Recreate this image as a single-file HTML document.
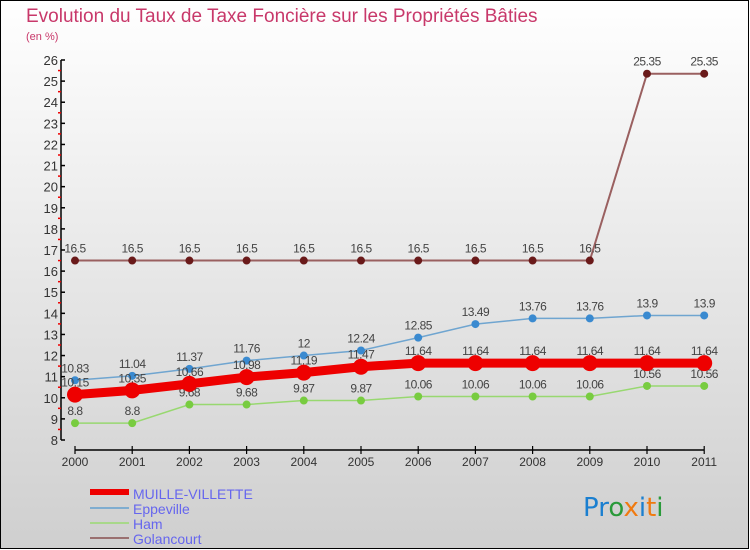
<!DOCTYPE html>
<html><head><meta charset="utf-8"><style>
body{margin:0;}
#c{position:relative;width:750px;height:550px;overflow:hidden;}
svg{display:block;font-family:"Liberation Sans",sans-serif;}
</style></head><body>
<div id="c">
<svg id="s" width="750" height="550">
<defs><linearGradient id="bg" x1="0" y1="0" x2="0" y2="1"><stop offset="0" stop-color="#ffffff"/><stop offset="1" stop-color="#cfcfcf"/></linearGradient></defs>
<rect x="0.5" y="0.5" width="748" height="548" fill="url(#bg)" stroke="#000"/>
<text x="26" y="22" font-size="19" fill="#c8386a">Evolution du Taux de Taxe Foncière sur les Propriétés Bâties</text>
<text x="26" y="40" font-size="11" fill="#c8386a">(en %)</text>
<g id="axes"></g><g id="series"></g>
<g>
<rect x="90" y="489" width="39" height="6" fill="#ee0000"/>
<text x="133" y="499" font-size="14" fill="#6666ee">MUILLE-VILLETTE</text>
<rect x="90" y="507" width="39" height="2" fill="#7fadd0"/>
<text x="133" y="514" font-size="14" fill="#6666ee">Eppeville</text>
<rect x="90" y="522" width="39" height="2" fill="#a8d88a"/>
<text x="133" y="529" font-size="14" fill="#6666ee">Ham</text>
<rect x="90" y="537" width="39" height="2" fill="#9a7070"/>
<text x="133" y="544" font-size="14" fill="#6666ee">Golancourt</text>
</g>
<text x="583" y="516" font-size="26" font-family="'DejaVu Sans',sans-serif"><tspan fill="#1a7fd0">Pr</tspan><tspan fill="#2a9a3a">o</tspan><tspan fill="#f07a10">x</tspan><tspan fill="#1a7fd0">i</tspan><tspan fill="#f07a10">t</tspan><tspan fill="#2a9a3a">i</tspan></text>
</svg></div>
<script>
const years=[2000,2001,2002,2003,2004,2005,2006,2007,2008,2009,2010,2011];
const muille=[10.15,10.35,10.66,10.98,11.19,11.47,11.64,11.64,11.64,11.64,11.64,11.64];
const eppeville=[10.83,11.04,11.37,11.76,12,12.24,12.85,13.49,13.76,13.76,13.9,13.9];
const ham=[8.8,8.8,9.68,9.68,9.87,9.87,10.06,10.06,10.06,10.06,10.56,10.56];
const golancourt=[16.5,16.5,16.5,16.5,16.5,16.5,16.5,16.5,16.5,16.5,25.35,25.35];
const yTicks=[8,9,10,11,12,13,14,15,16,17,18,19,20,21,22,23,24,25,26];
const NS="http://www.w3.org/2000/svg";
function X(i){return 75+i*57.2;}
function Y(v){return 440-(v-8)*(380/18);}
function mk(t,a,p){const e=document.createElementNS(NS,t);for(const k in a)e.setAttribute(k,a[k]);p.appendChild(e);return e;}
const ax=document.getElementById('axes');
const yl=mk('line',{x1:61,y1:Y(26),x2:61,y2:Y(8),stroke:'#000','stroke-width':1.5},ax);


yTicks.forEach(v=>{
 const t=mk('line',{x1:61,y1:Y(v),x2:65,y2:Y(v),stroke:'#000','stroke-width':1.5},ax);
 
 
 if(v<26){const m=mk('line',{x1:58,y1:Y(v+0.5),x2:61,y2:Y(v+0.5),stroke:'#e00','stroke-width':1.5},ax);
 
 }
 const l=mk('text',{x:58,y:Y(v)+5,'font-size':13,fill:'#333','text-anchor':'end'},ax);l.textContent=v;
 
 
});
const xl=mk('line',{x1:X(0),y1:450,x2:X(11),y2:450,stroke:'#000','stroke-width':1.5},ax);


years.forEach((yr,i)=>{
 const t=mk('line',{x1:X(i),y1:446,x2:X(i),y2:454,stroke:'#000','stroke-width':1.2},ax);
 
 
 const l=mk('text',{x:X(i),y:466,'font-size':12,fill:'#333','text-anchor':'middle'},ax);l.textContent=yr;
 
 
});
const sg=document.getElementById('series');
function draw(name,vals,line,dot,lw,r){
 const g=mk('g',{},sg);
 
 
 const pl=mk('polyline',{points:vals.map((v,i)=>X(i)+','+Y(v)).join(' '),fill:'none',stroke:line,'stroke-width':lw},g);
 
 
 vals.forEach((v,i)=>{
  const c=mk('circle',{cx:X(i),cy:Y(v),r:r,fill:dot},g);
  
  
  const t=mk('text',{x:X(i),y:Y(v)-8,'font-size':12,fill:'#444','text-anchor':'middle','letter-spacing':'-0.5'},g);t.textContent=v;
  
  
 });
}
draw('golancourt',golancourt,'#9a6060','#6a1a1a',2,4);
draw('eppeville',eppeville,'#6fa5d0','#3a8ad0',1.5,4);
draw('ham',ham,'#98d870','#78cc40',1.5,4);
draw('muille',muille,'#ee0000','#ee0000',9,8);
</script>
</body></html>
